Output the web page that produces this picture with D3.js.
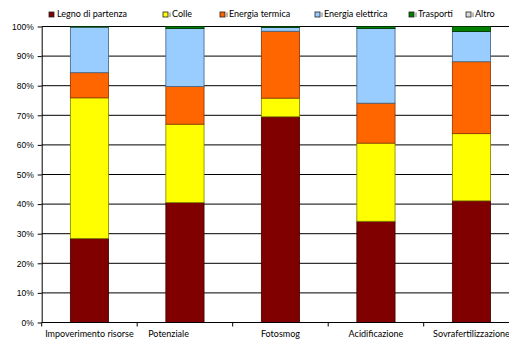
<!DOCTYPE html>
<html>
<head>
<meta charset="utf-8">
<script src="https://cdn.jsdelivr.net/npm/d3@7"></script>
<style>
  body { margin: 0; background: #fff; }
  svg { display: block; }
</style>
</head>
<body>
<svg id="chart" width="509" height="340"></svg>
<script>
// Categories (impact indicators) and the share of each contributor, in percent
const categories = ["Impoverimento risorse", "Potenziale|riscaldamento globale", "Fotosmog", "Acidificazione", "Sovrafertilizzazione"];
const seriesNames = ["Legno di partenza", "Colle", "Energia termica", "Energia elettrica", "Trasporti", "Altro"];
const legno = [28.4, 40.5, 69.5, 34.2, 41.1];
const colle = [47.5, 26.5, 6.3, 26.4, 22.7];
const energiaTermica = [8.5, 12.7, 22.6, 13.5, 24.3];
const energiaElettrica = [15.4, 19.6, 1.3, 25.2, 10.2];
const trasporti = [0.2, 0.7, 0.3, 0.7, 1.7];
const altro = [0, 0, 0, 0, 0];
const yTicks = [0, 0.1, 0.2, 0.3, 0.4, 0.5, 0.6, 0.7, 0.8, 0.9, 1];

const seriesValues = [legno, colle, energiaTermica, energiaElettrica, trasporti, altro];
const colors = ["#800000", "#ffff00", "#ff6600", "#99ccff", "#008000", "#d9d9d9"];
const strokes = ["#3a0000", "#808000", "#8a3300", "#40607f", "#003300", "#606060"];

const rows = categories.map((c, i) => {
  const r = { category: c };
  seriesNames.forEach((s, j) => { r[s] = seriesValues[j][i]; });
  return r;
});
const stacked = d3.stack().keys(seriesNames).offset(d3.stackOffsetExpand)(rows);

const svg = d3.select("#chart");

// plot area (the right end runs past the visible page)
const plotLeft = 41.7, plotRight = 519.2, plotTop = 26.5, plotBottom = 322.5;

const x = d3.scaleBand().domain(categories).range([plotLeft, plotRight]).padding(0);
const y = d3.scaleLinear().domain([0, 1]).range([plotBottom, plotTop]);
const barW = x.bandwidth() * 0.4;

// gridlines
svg.append("g")
  .selectAll("line")
  .data(yTicks.slice(1))
  .join("line")
  .attr("x1", plotLeft).attr("x2", 509)
  .attr("y1", d => y(d)).attr("y2", d => y(d))
  .attr("stroke", "#000").attr("stroke-width", 1);

// stacked bars
const layers = svg.append("g")
  .selectAll("g")
  .data(stacked)
  .join("g")
  .attr("fill", (d, i) => colors[i])
  .attr("stroke", (d, i) => strokes[i]);

layers.selectAll("rect")
  .data(d => d.filter(p => p[1] - p[0] > 0))
  .join("rect")
  .attr("x", d => x(d.data.category) + (x.bandwidth() - barW) / 2)
  .attr("width", barW)
  .attr("y", d => y(d[1]))
  .attr("height", d => y(d[0]) - y(d[1]))
  .attr("stroke-width", 0.8);

// y axis
const yAxis = svg.append("g")
  .attr("transform", `translate(${plotLeft},0)`)
  .call(d3.axisLeft(y).tickValues(yTicks).tickFormat(d3.format(".0%")).tickSize(4).tickSizeOuter(0).tickPadding(4));
yAxis.select(".domain").attr("stroke", "#000");
yAxis.selectAll(".tick line").attr("stroke", "#000");
yAxis.selectAll("text")
  .attr("font-family", "'Liberation Sans', Arial, sans-serif")
  .attr("font-size", 8.5)
  .attr("fill", "#000");

// x axis: line, ticks on band boundaries, wrapped labels
const xAxis = svg.append("g");
xAxis.append("line")
  .attr("x1", plotLeft).attr("x2", 509)
  .attr("y1", plotBottom).attr("y2", plotBottom)
  .attr("stroke", "#000");
xAxis.selectAll("line.tk")
  .data(categories)
  .join("line")
  .attr("class", "tk")
  .attr("x1", d => x(d)).attr("x2", d => x(d))
  .attr("y1", plotBottom).attr("y2", plotBottom + 4)
  .attr("stroke", "#000");

xAxis.selectAll("text")
  .data(categories)
  .join("text")
  .attr("font-family", "Lato, 'Open Sans', sans-serif")
  .attr("font-size", 9)
  .attr("fill", "#000")
  .each(function (d) {
    const lines = d.split("|");
    const t = d3.select(this);
    if (lines.length === 1) {
      t.attr("text-anchor", "middle")
        .attr("x", x(d) + x.bandwidth() / 2)
        .attr("y", 337)
        .text(d);
    } else {
      const x0 = x(d) + 11;
      lines.forEach((ln, k) => {
        t.append("tspan").attr("x", x0).attr("y", 337 + k * 10.5).text(ln);
      });
    }
  });

// legend
const legendX = [49, 163, 220, 315, 409, 466];
const legend = svg.append("g")
  .selectAll("g")
  .data(seriesNames)
  .join("g")
  .attr("transform", (d, i) => `translate(${legendX[i]},12)`);
legend.append("rect")
  .attr("width", 5).attr("height", 5)
  .attr("fill", (d, i) => colors[i])
  .attr("stroke", "#222").attr("stroke-width", 0.8);
legend.filter((d, i) => i > 0)
  .append("line")
  .attr("x1", 7).attr("x2", 7).attr("y1", 0.5).attr("y2", 5)
  .attr("stroke", "#555").attr("stroke-width", 0.8);
legend.append("text")
  .attr("x", (d, i) => i > 0 ? 9 : 8)
  .attr("y", 5.3)
  .attr("font-family", "Lato, 'Open Sans', sans-serif")
  .attr("font-size", 9)
  .attr("fill", "#000")
  .text(d => d);
</script>
</body>
</html>
